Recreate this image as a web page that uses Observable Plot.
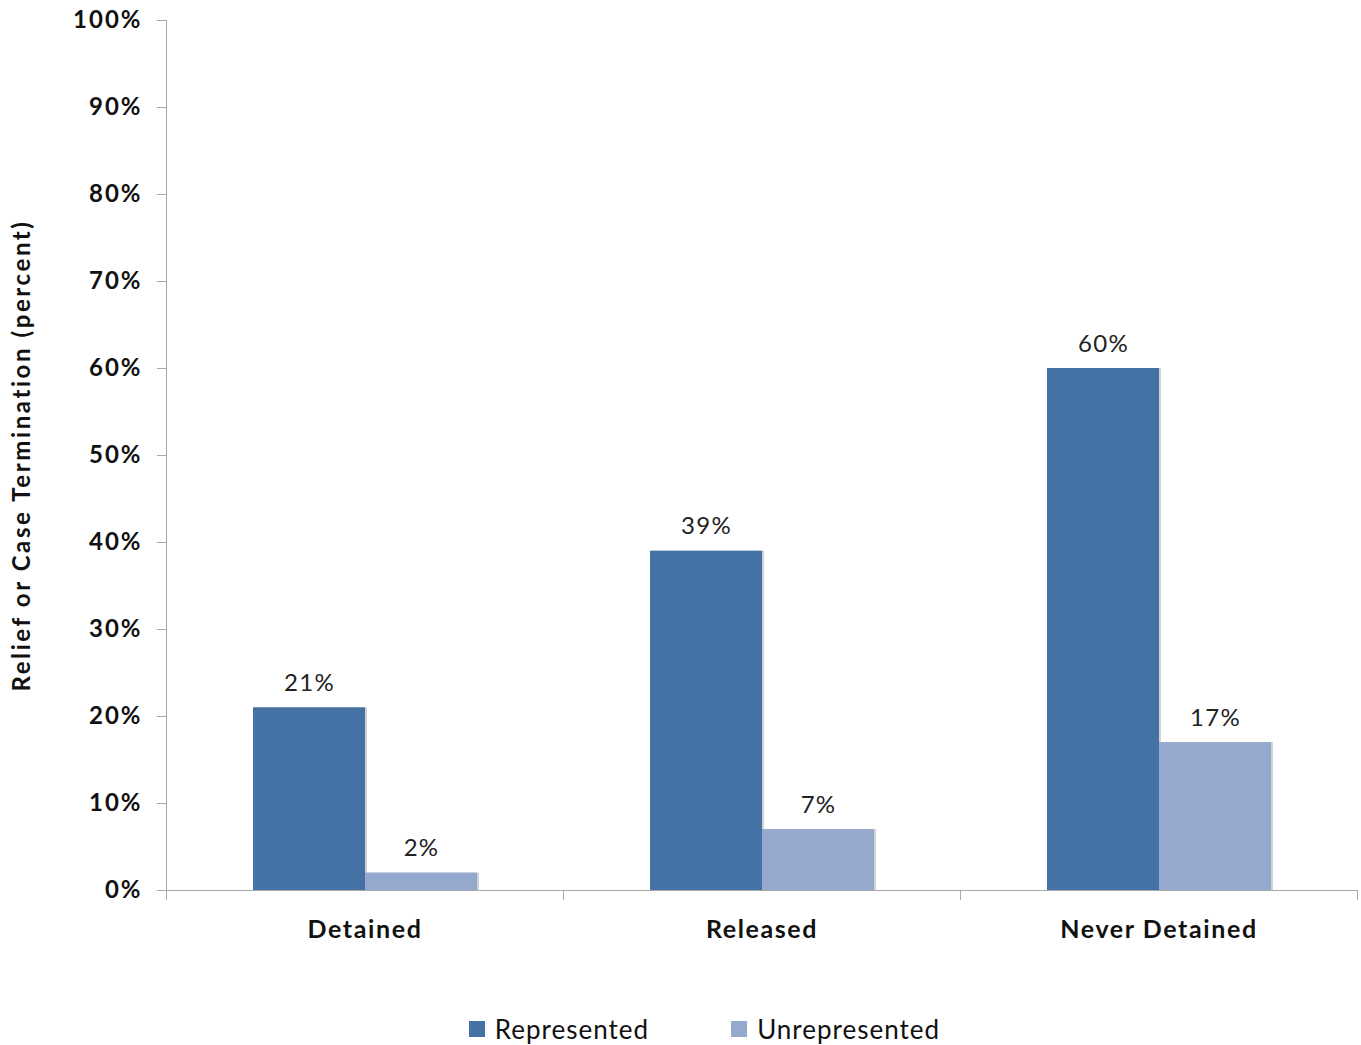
<!DOCTYPE html>
<html>
<head>
<meta charset="utf-8">
<script src="https://cdn.jsdelivr.net/npm/d3@7"></script>
<script src="https://cdn.jsdelivr.net/npm/@observablehq/plot@0.6"></script>
<style>
  html, body { margin: 0; padding: 0; background: #fff; }
  #chart svg { display: block; }
  #chart g[aria-label="y-axis tick label"] text { letter-spacing: 2px; }
  #chart g[aria-label="y-axis label"] text { letter-spacing: 2.6px; }
  #chart g[aria-label="fx-axis tick label"] text { letter-spacing: 1.6px; }
  #chart g[aria-label="text"] text { letter-spacing: 1.3px; }
  #legend { display: flex; justify-content: center; gap: 82px; padding-left: 48px; margin-top: 14px;
    font-family: Lato, "Open Sans", sans-serif; font-size: 26px; color: #111; line-height: 30px; letter-spacing: 1px; }
  #legend .item { display: flex; align-items: center; }
  #legend .sw { width: 16px; height: 16px; margin-right: 10px; display: inline-block; }
</style>
</head>
<body>
<div id="chart"></div>
<div id="legend"></div>
<script>
const groups = ["Detained", "Released", "Never Detained"];
const series = ["Represented", "Unrepresented"];
const represented = [21, 39, 60];
const unrepresented = [2, 7, 17];
const colors = ["#4472a5", "#95a9cf"];
const yTicks = [0, 10, 20, 30, 40, 50, 60, 70, 80, 90, 100];

const data = [];
groups.forEach((g, i) => {
  data.push({group: g, series: series[0], value: represented[i]});
  data.push({group: g, series: series[1], value: unrepresented[i]});
});

const font = "Lato, 'Open Sans', sans-serif";
const axisGray = "#a9a9a9";

const chart = Plot.plot({
  width: 1361,
  height: 1000,
  marginLeft: 166,
  marginRight: 4,
  marginTop: 20,
  marginBottom: 110,
  style: {fontFamily: font, background: "#fff"},
  fx: {domain: groups, padding: 0, label: null},
  x: {domain: series, paddingInner: 0, paddingOuter: 0.76, axis: null},
  y: {domain: [0, 100], axis: null},
  color: {domain: series, range: colors},
  marks: [
    Plot.frame({anchor: "left", facetAnchor: "left", stroke: axisGray, strokeOpacity: 1}),
    Plot.frame({anchor: "left", stroke: axisGray, strokeOpacity: 1, insetTop: 870, insetBottom: -9}),
    Plot.frame({anchor: "right", stroke: axisGray, strokeOpacity: 1, insetTop: 870, insetBottom: -9}),
    Plot.axisY({
      ticks: yTicks,
      tickFormat: d => d + "%",
      tickSize: 9,
      tickPadding: 15,
      fontSize: 24,
      fontWeight: "bold",
      color: "#111",
      stroke: axisGray,
      strokeOpacity: 1,
      label: "Relief or Case Termination (percent)",
      labelAnchor: "center",
      labelArrow: "none",
      labelOffset: 154
    }),
    Plot.axisFx({
      anchor: "bottom",
      tickSize: 0,
      tickPadding: 30,
      fontSize: 25,
      fontWeight: "bold",
      color: "#111",
      label: null
    }),
    Plot.barY(data, {fx: "group", x: "series", y: "value", fill: "#d2d2d2", dx: 2}),
    Plot.barY(data, {fx: "group", x: "series", y: "value", fill: "series"}),
    Plot.ruleY([0], {stroke: axisGray}),
    Plot.text(data, {
      fx: "group", x: "series", y: "value",
      text: d => d.value + "%",
      lineAnchor: "bottom",
      dy: -17,
      fontSize: 24,
      fill: "#222"
    })
  ]
});
document.getElementById("chart").appendChild(chart);

const legend = document.getElementById("legend");
series.forEach((s, i) => {
  const item = document.createElement("div");
  item.className = "item";
  const sw = document.createElement("span");
  sw.className = "sw";
  sw.style.background = colors[i];
  const label = document.createElement("span");
  label.textContent = s;
  item.appendChild(sw);
  item.appendChild(label);
  legend.appendChild(item);
});
</script>
</body>
</html>
